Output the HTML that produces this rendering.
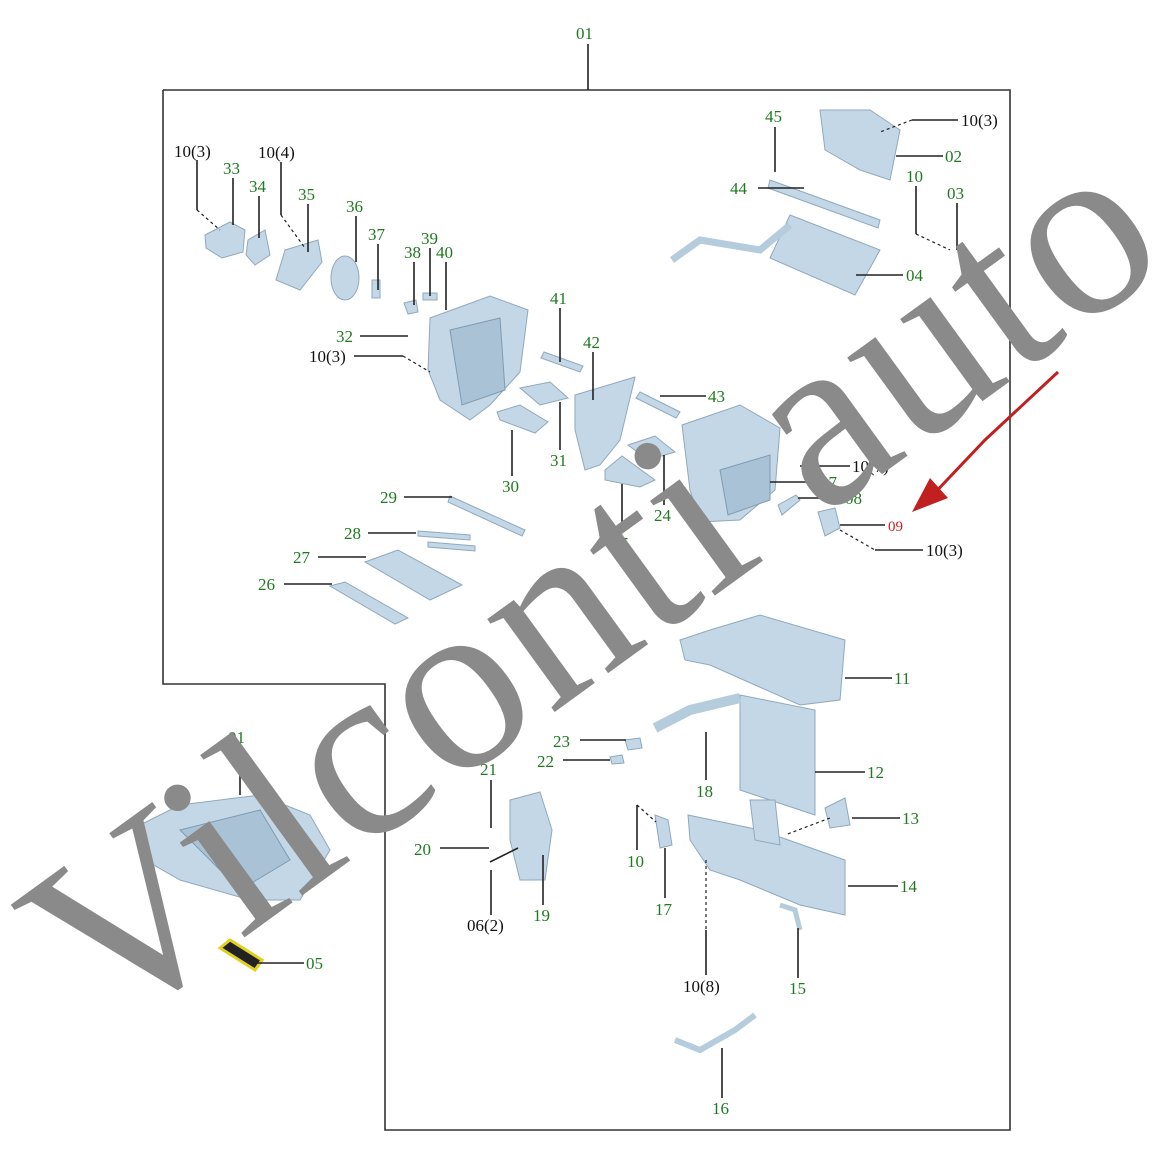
<!DOCTYPE html>
<html><head><meta charset="utf-8"><style>
html,body{margin:0;padding:0;background:#fff;}
svg{display:block}
.g{fill:#1f7a1f;font-family:"Liberation Serif",serif;font-size:17px}
.k{fill:#111;font-family:"Liberation Serif",serif;font-size:17px}
.r{fill:#d02020;font-family:"Liberation Serif",serif;font-size:15px}
line,polyline{stroke:#222;stroke-width:1.6;fill:none}
.d{stroke-dasharray:3 3;stroke-width:1.2}
.p{fill:#c4d7e6;stroke:#8fa9bd;stroke-width:1}
.q{fill:#a9c2d6;stroke:#7f9bb1;stroke-width:1}
</style></head><body>
<svg width="1170" height="1170" viewBox="0 0 1170 1170" xmlns="http://www.w3.org/2000/svg">
<rect width="1170" height="1170" fill="#fff"/>
<polyline points="163,90 1010,90 1010,1130 385,1130 385,684 163,684 163,90" style="stroke:#333;stroke-width:1.6"/>
<line x1="588" y1="44" x2="588" y2="90"/>
<text class="g" x="576" y="39">01</text>

<g>
<polygon class="p" points="205,235 230,222 245,230 243,252 222,258 206,248"/>
<polygon class="p" points="248,240 265,230 270,255 255,265 246,255"/>
<polygon class="p" points="285,250 318,240 322,262 300,290 276,280"/>
<ellipse class="p" cx="345" cy="278" rx="14" ry="22"/>
<rect class="p" x="372" y="280" width="8" height="18"/>
<polygon class="p" points="404,303 416,300 418,312 408,314"/>
<polygon class="p" points="423,293 437,293 437,300 423,300"/>
<polygon class="p" points="430,318 490,296 528,310 520,372 490,405 470,420 440,400 428,370"/>
<polygon class="q" points="450,330 500,318 505,390 462,405"/>
<polygon class="p" points="544,352 583,366 580,372 541,358"/>
<polygon class="p" points="520,388 550,382 568,398 540,405"/>
<polygon class="p" points="497,412 520,405 548,422 535,433 500,420"/>
<polygon class="p" points="575,395 635,377 620,440 600,465 585,470 575,430"/>
<polygon class="p" points="640,392 680,412 676,418 636,398"/>
<polygon class="p" points="628,445 655,436 675,452 648,460"/>
<polygon class="p" points="605,470 622,456 655,480 640,487 605,480"/>
<polygon class="p" points="682,425 740,405 780,428 775,490 740,520 700,522 690,490"/>
<polygon class="q" points="720,470 770,455 770,500 728,515"/>
<polygon class="p" points="778,505 796,495 800,500 782,515"/>
<polygon class="p" points="818,512 835,508 840,528 825,536"/>
<polygon class="p" points="820,110 870,110 900,130 890,180 860,170 825,150"/>
<polygon class="p" points="770,180 880,220 878,228 768,188"/>
<polygon class="p" points="790,215 880,250 855,295 770,258"/>
<polyline points="672,260 700,240 760,250 790,225" style="stroke:#b5ccdd;stroke-width:7"/>
<polygon class="p" points="450,496 525,530 522,536 448,502"/>
<polygon class="p" points="418,531 470,535 470,540 418,536"/>
<polygon class="p" points="428,542 475,546 475,551 428,547"/>
<polygon class="p" points="365,562 398,550 462,585 430,600"/>
<polygon class="p" points="330,586 345,582 408,618 395,624"/>
<polygon class="p" points="680,640 710,630 760,615 845,640 840,700 800,705 710,665 685,660"/>
<polygon class="p" points="740,695 815,710 815,815 740,790"/>
<polyline points="655,728 690,710 740,698" style="stroke:#b5ccdd;stroke-width:10"/>
<polygon class="p" points="625,740 640,738 642,748 628,750"/>
<polygon class="p" points="610,757 622,755 624,763 612,764"/>
<polygon class="p" points="688,815 760,830 845,860 845,915 800,905 740,880 710,870 690,840"/>
<polygon class="p" points="750,800 775,800 780,845 755,840"/>
<polygon class="p" points="825,808 845,798 850,825 830,828"/>
<polygon class="p" points="655,815 668,820 672,845 660,848"/>
<polygon class="p" points="510,800 540,792 552,830 545,880 520,880 510,840"/>
<polyline points="780,905 795,910 800,930" style="stroke:#b5ccdd;stroke-width:5"/>
<polyline points="675,1040 700,1050 735,1030 755,1015" style="stroke:#b5ccdd;stroke-width:6"/>
<polygon class="p" points="140,825 180,805 260,795 310,815 330,850 300,900 250,900 180,880 145,860"/>
<polygon class="q" points="180,830 260,810 290,860 240,890"/>
<polygon points="220,948 230,940 262,960 255,970" fill="#222" stroke="#e0d020" stroke-width="3"/>
</g>

<g>
<line x1="197" y1="160" x2="197" y2="210"/><line class="d" x1="197" y1="210" x2="220" y2="230"/>
<line x1="233" y1="178" x2="233" y2="225"/>
<line x1="259" y1="196" x2="259" y2="238"/>
<line x1="281" y1="162" x2="281" y2="215"/><line class="d" x1="281" y1="215" x2="305" y2="248"/>
<line x1="308" y1="204" x2="308" y2="252"/>
<line x1="356" y1="216" x2="356" y2="262"/>
<line x1="378" y1="244" x2="378" y2="290"/>
<line x1="414" y1="262" x2="414" y2="305"/>
<line x1="430" y1="248" x2="430" y2="296"/>
<line x1="446" y1="262" x2="446" y2="310"/>
<line x1="360" y1="336" x2="408" y2="336"/>
<line x1="354" y1="356" x2="403" y2="356"/><line class="d" x1="403" y1="356" x2="430" y2="372"/>
<line x1="560" y1="308" x2="560" y2="362"/>
<line x1="593" y1="352" x2="593" y2="400"/>
<line x1="660" y1="396" x2="706" y2="396"/>
<line x1="512" y1="430" x2="512" y2="476"/>
<line x1="560" y1="402" x2="560" y2="450"/>
<line x1="664" y1="455" x2="664" y2="505"/>
<line x1="622" y1="484" x2="622" y2="533"/>
<line x1="800" y1="466" x2="850" y2="466"/>
<line x1="770" y1="482" x2="818" y2="482"/>
<line x1="798" y1="498" x2="843" y2="498"/>
<line x1="840" y1="525" x2="885" y2="525"/>
<line class="d" x1="840" y1="530" x2="875" y2="550"/><line x1="875" y1="550" x2="923" y2="550"/>
<line x1="404" y1="497" x2="452" y2="497"/>
<line x1="368" y1="533" x2="416" y2="533"/>
<line x1="318" y1="557" x2="366" y2="557"/>
<line x1="284" y1="584" x2="332" y2="584"/>
<line x1="775" y1="127" x2="775" y2="172"/>
<line x1="758" y1="188" x2="804" y2="188"/>
<line x1="912" y1="120" x2="958" y2="120"/><line class="d" x1="912" y1="120" x2="880" y2="132"/>
<line x1="896" y1="156" x2="943" y2="156"/>
<line x1="916" y1="186" x2="916" y2="234"/><line class="d" x1="916" y1="234" x2="950" y2="250"/>
<line x1="957" y1="203" x2="957" y2="250"/>
<line x1="856" y1="275" x2="903" y2="275"/>
<line x1="845" y1="678" x2="892" y2="678"/>
<line x1="815" y1="772" x2="865" y2="772"/>
<line x1="852" y1="818" x2="900" y2="818"/><line class="d" x1="830" y1="818" x2="785" y2="835"/>
<line x1="848" y1="886" x2="898" y2="886"/>
<line x1="580" y1="740" x2="626" y2="740"/>
<line x1="563" y1="760" x2="610" y2="760"/>
<line x1="706" y1="732" x2="706" y2="780"/>
<line x1="637" y1="805" x2="637" y2="850"/><line class="d" x1="637" y1="805" x2="656" y2="822"/>
<line x1="665" y1="848" x2="665" y2="898"/>
<line class="d" x1="706" y1="860" x2="706" y2="930"/><line x1="706" y1="930" x2="706" y2="975"/>
<line x1="798" y1="928" x2="798" y2="978"/>
<line x1="722" y1="1048" x2="722" y2="1098"/>
<line x1="491" y1="780" x2="491" y2="828"/>
<line x1="440" y1="848" x2="489" y2="848"/>
<line x1="491" y1="870" x2="491" y2="915"/><line x1="490" y1="862" x2="518" y2="848"/>
<line x1="543" y1="855" x2="543" y2="905"/>
<line x1="240" y1="747" x2="240" y2="795"/>
<line x1="256" y1="963" x2="304" y2="963"/>
</g>

<g>
<text class="k" x="174" y="157">10(3)</text>
<text class="g" x="223" y="174">33</text>
<text class="g" x="249" y="192">34</text>
<text class="k" x="258" y="158">10(4)</text>
<text class="g" x="298" y="200">35</text>
<text class="g" x="346" y="212">36</text>
<text class="g" x="368" y="240">37</text>
<text class="g" x="404" y="258">38</text>
<text class="g" x="421" y="244">39</text>
<text class="g" x="436" y="258">40</text>
<text class="g" x="336" y="342">32</text>
<text class="k" x="309" y="362">10(3)</text>
<text class="g" x="550" y="304">41</text>
<text class="g" x="583" y="348">42</text>
<text class="g" x="708" y="402">43</text>
<text class="g" x="502" y="492">30</text>
<text class="g" x="550" y="466">31</text>
<text class="g" x="654" y="521">24</text>
<text class="g" x="612" y="549">25</text>
<text class="k" x="852" y="472">10(7)</text>
<text class="g" x="820" y="488">07</text>
<text class="g" x="845" y="504">08</text>
<text class="r" x="888" y="531">09</text>
<text class="k" x="926" y="556">10(3)</text>
<text class="g" x="380" y="503">29</text>
<text class="g" x="344" y="539">28</text>
<text class="g" x="293" y="563">27</text>
<text class="g" x="258" y="590">26</text>
<text class="g" x="765" y="122">45</text>
<text class="g" x="730" y="194">44</text>
<text class="k" x="961" y="126">10(3)</text>
<text class="g" x="945" y="162">02</text>
<text class="g" x="906" y="182">10</text>
<text class="g" x="947" y="199">03</text>
<text class="g" x="906" y="281">04</text>
<text class="g" x="894" y="684">11</text>
<text class="g" x="867" y="778">12</text>
<text class="g" x="902" y="824">13</text>
<text class="g" x="900" y="892">14</text>
<text class="g" x="553" y="747">23</text>
<text class="g" x="537" y="767">22</text>
<text class="g" x="696" y="797">18</text>
<text class="g" x="627" y="867">10</text>
<text class="g" x="655" y="915">17</text>
<text class="k" x="683" y="992">10(8)</text>
<text class="g" x="789" y="994">15</text>
<text class="g" x="712" y="1114">16</text>
<text class="g" x="480" y="775">21</text>
<text class="g" x="414" y="855">20</text>
<text class="k" x="467" y="931">06(2)</text>
<text class="g" x="533" y="921">19</text>
<text class="g" x="228" y="743">01</text>
<text class="g" x="306" y="969">05</text>
</g>

<polyline points="1058,372 985,440 928,500" style="stroke:#c02020;stroke-width:3"/>
<polygon points="912,512 930,478 948,498" fill="#c02020"/>

<text x="0" y="0" transform="translate(640,650) rotate(-36)" text-anchor="middle" font-family="'Liberation Serif',serif" font-size="250" fill="#8a8a8a" letter-spacing="2">Vilconti auto</text>
</svg>
</body></html>
